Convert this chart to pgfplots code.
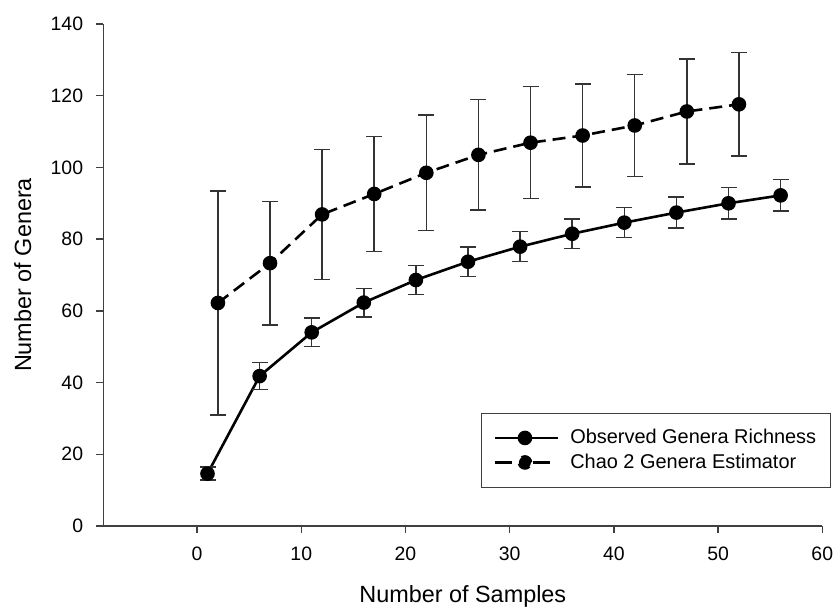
\documentclass[border=0pt]{standalone}
\usepackage{fontspec}
\setmainfont{Liberation Sans}
\usepackage{pgfplots}
\pgfplotsset{compat=1.18}

\definecolor{axisgray}{HTML}{404040}
\definecolor{bargray}{HTML}{333333}

\begin{document}
\begin{tikzpicture}
\useasboundingbox (0,0) rectangle (835bp,607bp);
\begin{axis}[
  at={(103.3bp,81bp)}, anchor=south west,
  scale only axis, width=719bp, height=502bp,
  xmin=-9, xmax=60, ymin=0, ymax=140,
  axis x line*=bottom, axis y line*=left,
  axis line style={line width=1.5bp, axisgray, -},
  xtick={0,10,...,60}, ytick={0,20,...,140},
  tick align=outside, major tick length=7bp,
  tick style={line width=1.3bp, axisgray},
  minor tick num=0,
  /pgf/number format/assume math mode=true,
  ticklabel style={font=\fontsize{19.5}{22}\selectfont, inner sep=0pt},
  xticklabel style={anchor=north, yshift=-14bp},
  yticklabel style={anchor=east, xshift=-13bp},
  xlabel={Number of Samples},
  ylabel={Number of Genera},
  label style={font=\fontsize{23.5}{27}\selectfont},
  xlabel style={at={([yshift=-70bp]axis description cs:0.5,0)}, anchor=center},
  ylabel style={at={([xshift=-80.5bp]axis description cs:0,0.5)}, anchor=center},
  clip=false,
  legend style={
    at={(rel axis cs:1.0117,0.2257)}, anchor=north east,
    draw=axisgray, line width=1bp,
    font=\fontsize{20}{24}\selectfont,
    inner xsep=12bp, inner ysep=14bp,
    row sep=3bp, column sep=9bp,
    nodes={text height=14.5bp, text depth=3bp, inner sep=2bp},
  },
  legend cell align=left,
]

% observed richness, mean +- sd
\addplot[black, line width=2.6bp, mark=*, mark size=6bp,
  legend image code/.code={
    \draw[black, line width=2.8bp, solid] (0bp,0bp) -- (63bp,0bp);
    \fill[black] (30bp,0bp) circle (6bp);
  },
  error bars/.cd, y dir=both, y explicit,
  error bar style={line width=1.5bp, bargray},
  error mark options={rotate=90, mark size=8bp, line width=1.5bp, bargray},
  ]
  coordinates {
  (1,14.6)  +- (0,1.8)
  (6,41.8)  +- (0,3.8)
  (11,54.0) +- (0,4.0)
  (16,62.3) +- (0,4.0)
  (21,68.6) +- (0,4.1)
  (26,73.7) +- (0,4.1)
  (31,77.9) +- (0,4.2)
  (36,81.5) +- (0,4.1)
  (41,84.6) +- (0,4.2)
  (46,87.4) +- (0,4.3)
  (51,90.0) +- (0,4.4)
  (56,92.2) +- (0,4.4)
  };
\addlegendentry{Observed Genera Richness}

% Chao 2 estimator, mean +- sd
\addplot[black, line width=2.6bp, dash pattern=on 13bp off 7bp,
  mark=*, mark size=6bp, mark options={solid},
  legend image code/.code={
    \draw[black, line width=2.8bp, solid] (0bp,0bp) -- (17bp,0bp);
    \draw[black, line width=2.8bp, solid] (38bp,0bp) -- (55bp,0bp);
    \fill[black] (30bp,0bp) circle (6bp);
    \path (63bp,0bp);
  },
  error bars/.cd, y dir=both, y explicit,
  error bar style={line width=1.5bp, bargray, solid},
  error mark options={rotate=90, mark size=8bp, line width=1.5bp, bargray, solid},
  ]
  coordinates {
  (2,62.2)   +- (0,31.2)
  (7,73.3)   +- (0,17.2)
  (12,86.9)  +- (0,18.1)
  (17,92.6)  +- (0,16.0)
  (22,98.5)  +- (0,16.1)
  (27,103.5) +- (0,15.4)
  (32,106.9) +- (0,15.6)
  (37,108.9) +- (0,14.3)
  (42,111.7) +- (0,14.2)
  (47,115.6) +- (0,14.7)
  (52,117.6) +- (0,14.4)
  };
\addlegendentry{Chao 2 Genera Estimator}
\end{axis}
\end{tikzpicture}
\end{document}
